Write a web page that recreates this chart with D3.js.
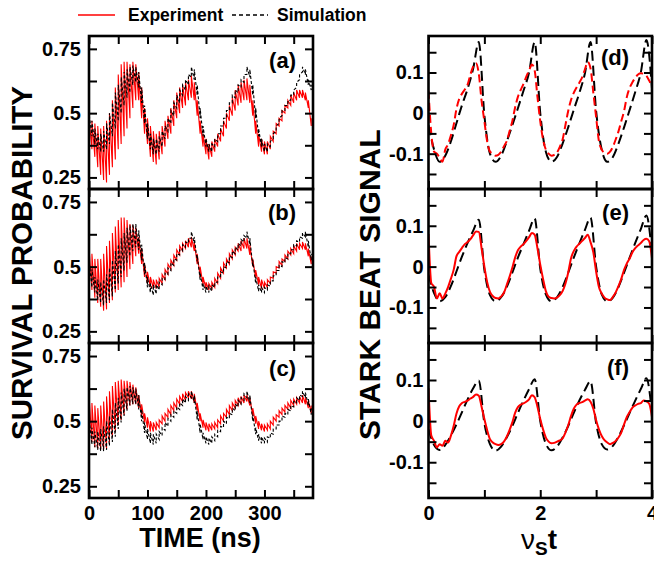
<!DOCTYPE html>
<html><head><meta charset="utf-8">
<script src="https://cdn.jsdelivr.net/npm/d3@7"></script>
<style>
body{margin:0;background:#fff}
svg{display:block}
text{font-family:"Liberation Sans",Arial,Helvetica,sans-serif;font-weight:bold;fill:#000}
</style>
</head><body>
<svg id="chart" width="654" height="563"></svg>
<script>
// ---------- DATA ----------
// time samples (ns) for left panels
const tNs = d3.range(0, 381, 5);
// Panel (a): envelope of fast oscillation (upper / lower)
const aExpHi = [.48,.47,.46,.45,.44,.45,.47,.50,.55,.60, .65,.69,.70,.70,.69,.70,.69,.66,.60,.52, .48,.45,.43,.42,.43,.45,.47,.49,.52,.55, .58,.60,.61,.62,.63,.645,.62,.55,.47,.42, .40,.38,.39,.40,.42,.44,.47,.50,.53,.56, .59,.61,.62,.63,.635,.61,.55,.47,.42,.40, .39,.39,.41,.43,.46,.48,.51,.53,.55,.57, .58,.59,.59,.59,.58,.55,.48];
const aExpLo = [.39,.36,.33,.29,.26,.24,.23,.26,.29,.32, .36,.38,.41,.44,.48,.52,.55,.55,.48,.42, .38,.33,.31,.30,.32,.34,.37,.40,.42,.45, .48,.50,.52,.53,.55,.56,.55,.49,.42,.37, .34,.32,.33,.35,.37,.39,.41,.44,.47,.49, .51,.53,.54,.55,.55,.54,.49,.42,.37,.35, .34,.34,.36,.39,.42,.45,.47,.50,.52,.53, .54,.55,.56,.56,.55,.52,.45];
const aSimHi = [.50,.47,.44,.42,.42,.43,.46,.50,.54,.58, .61,.64,.66,.67,.68,.685,.68,.66,.60,.53, .46,.42,.40,.40,.41,.43,.45,.48,.51,.54, .57,.59,.61,.63,.65,.68,.67,.61,.52,.45, .40,.38,.38,.40,.42,.45,.48,.51,.54,.57, .59,.61,.63,.65,.68,.67,.61,.52,.44,.40, .38,.38,.39,.42,.45,.48,.51,.53,.55,.57, .59,.62,.65,.68,.67,.63,.61];
const aSimLo = [.45,.41,.38,.36,.35,.35,.36,.38,.41,.44, .47,.50,.53,.56,.58,.61,.62,.60,.54,.46, .40,.36,.34,.34,.35,.37,.40,.43,.46,.49, .52,.54,.57,.59,.61,.64,.63,.57,.48,.41, .37,.35,.35,.37,.39,.42,.45,.48,.51,.54, .56,.58,.60,.62,.65,.64,.57,.48,.41,.37, .35,.35,.37,.40,.43,.46,.49,.51,.53,.55, .57,.60,.63,.66,.65,.61,.59];
// Panel (b)
const bExpHi = [.575,.55,.53,.53,.53,.55,.58,.60,.63,.655, .68,.69,.69,.68,.665,.66,.65,.615,.57,.51, .48,.46,.45,.45,.455,.47,.49,.51,.525,.545, .565,.58,.59,.60,.61,.615,.595,.55,.50,.46, .44,.435,.44,.455,.475,.495,.515,.53,.55,.565, .575,.59,.60,.61,.61,.585,.53,.487,.46,.45, .44,.45,.46,.48,.50,.52,.53,.545,.56,.57, .58,.59,.59,.595,.59,.57,.54];
const bExpLo = [.435,.41,.38,.36,.345,.33,.335,.36,.37,.40, .41,.42,.44,.46,.49,.51,.54,.55,.51,.46, .435,.42,.415,.415,.42,.435,.45,.47,.49,.505, .525,.545,.56,.57,.575,.575,.56,.51,.46,.43, .415,.41,.415,.42,.435,.455,.475,.495,.51,.53, .545,.56,.56,.57,.57,.545,.50,.455,.43,.415, .415,.42,.435,.455,.475,.495,.505,.52,.53,.545, .55,.56,.565,.57,.565,.54,.51];
const bSimHi = [.525,.49,.46,.45,.44,.45,.47,.495,.525,.56, .585,.61,.63,.65,.66,.665,.665,.64,.585,.515, .46,.435,.43,.43,.44,.455,.475,.495,.515,.53, .55,.565,.585,.595,.61,.635,.615,.545,.475,.435, .425,.425,.43,.44,.46,.48,.50,.52,.54,.56, .575,.59,.605,.62,.635,.61,.525,.46,.43,.42, .42,.43,.445,.465,.485,.505,.52,.535,.55,.565, .585,.60,.615,.63,.635,.60,.55];
const bSimLo = [.46,.42,.40,.37,.36,.35,.36,.37,.385,.41, .435,.46,.485,.515,.54,.56,.575,.565,.525,.47, .42,.40,.39,.395,.41,.43,.45,.47,.485,.505, .525,.545,.56,.575,.59,.61,.59,.52,.45,.41, .40,.40,.405,.42,.44,.46,.475,.495,.515,.535, .55,.565,.58,.595,.61,.585,.50,.435,.405,.40, .40,.41,.425,.445,.465,.485,.50,.515,.53,.55, .565,.58,.595,.61,.615,.575,.525];
// Panel (c)
const cExpHi = [.60,.57,.56,.55,.56,.575,.595,.615,.635,.65, .655,.66,.655,.655,.65,.64,.63,.60,.565,.53, .515,.50,.495,.495,.505,.52,.53,.545,.56,.57, .585,.595,.605,.61,.615,.615,.605,.57,.53,.505, .495,.49,.49,.495,.505,.52,.53,.545,.56,.57, .58,.59,.595,.60,.60,.59,.55,.52,.50,.49, .485,.49,.50,.515,.525,.54,.55,.56,.57,.58, .585,.59,.595,.60,.59,.58,.56];
const cExpLo = [.435,.42,.40,.395,.39,.39,.395,.42,.44,.46, .485,.505,.525,.545,.56,.565,.565,.55,.52,.495, .475,.46,.46,.465,.475,.49,.50,.515,.525,.54, .55,.565,.575,.58,.59,.585,.57,.54,.50,.475, .465,.46,.465,.47,.475,.49,.50,.515,.525,.54, .55,.56,.565,.57,.575,.56,.52,.49,.47,.465, .46,.465,.47,.485,.50,.515,.525,.535,.545,.55, .56,.565,.57,.57,.565,.55,.53];
const cSimHi = [.515,.475,.46,.46,.47,.48,.50,.52,.545,.57, .59,.61,.625,.63,.635,.63,.625,.60,.545,.495, .47,.455,.45,.45,.46,.475,.495,.51,.525,.54, .555,.57,.585,.595,.605,.615,.60,.54,.49,.455, .44,.435,.44,.45,.465,.48,.50,.515,.53,.55, .565,.58,.59,.605,.615,.60,.525,.475,.45,.44, .435,.44,.455,.47,.485,.50,.52,.53,.545,.56, .575,.59,.60,.615,.61,.585,.55];
const cSimLo = [.45,.41,.40,.39,.385,.385,.39,.405,.42,.44, .47,.495,.52,.54,.56,.565,.565,.545,.50,.455, .43,.415,.41,.415,.43,.445,.465,.48,.50,.515, .53,.545,.56,.57,.58,.59,.57,.505,.455,.43, .415,.41,.415,.425,.44,.46,.475,.49,.51,.525, .54,.555,.565,.58,.59,.57,.50,.45,.425,.415, .415,.42,.435,.45,.47,.485,.50,.515,.525,.54, .555,.57,.58,.595,.59,.56,.525];

// right panels: nu_S t samples
const nuSim = d3.range(0, 41).map(i => i / 10);
const nuExp = d3.range(0, 81).map(i => i / 20);
const dSim = [-.03,-.09,-.12,-.105,-.07,-.025,.02,.06,.11,.175, -.005,-.10,-.12,-.105,-.07,-.03,.012,.055,.10,.175, 0,-.095,-.12,-.108,-.075,-.035,.008,.05,.098,.175, .005,-.09,-.12,-.108,-.075,-.035,.008,.052,.10,.18, .06];
const dExp = [.055,-.05,-.095,-.10,-.11,-.12,-.09,-.077,-.055,-.03, .01,.035,.048,.058,.07,.095,.115,.123,.097,.03, -.02,-.07,-.095,-.10,-.105,-.103,-.095,-.082,-.069,-.045, -.02,.014,.04,.057,.072,.09,.105,.12,.105,.04, -.02,-.065,-.09,-.10,-.105,-.103,-.097,-.083,-.065,-.03, .005,.032,.05,.063,.075,.088,.108,.126,.11,.05, -.01,-.069,-.09,-.098,-.10,-.095,-.083,-.065,-.045,-.02, .005,.04,.062,.076,.087,.095,.098,.097,.092,.08, .065];
const eSim = [-.02,-.065,-.085,-.075,-.048,-.012,.025,.058,.088,.115, -.008,-.07,-.085,-.075,-.05,-.015,.022,.055,.088,.118, -.005,-.068,-.085,-.075,-.05,-.015,.022,.057,.09,.12, 0,-.068,-.085,-.076,-.05,-.015,.022,.058,.092,.125, .03];
const eExp = [.08,-.04,-.05,-.078,-.065,-.078,-.066,-.05,-.03,-.008, .025,.036,.046,.055,.06,.067,.077,.086,.085,.045, 0,-.038,-.062,-.072,-.077,-.078,-.073,-.064,-.045,-.025, -.003,.022,.04,.049,.055,.063,.072,.082,.078,.045, .005,-.03,-.06,-.074,-.077,-.078,-.076,-.07,-.06,-.042, -.015,.02,.038,.049,.056,.063,.07,.078,.06,.035, -.012,-.05,-.066,-.076,-.08,-.082,-.074,-.063,-.048,-.03, -.008,.008,.02,.035,.045,.052,.058,.065,.068,.062, .02];
const fSim = [-.02,-.058,-.07,-.058,-.035,-.008,.022,.053,.08,.099, -.005,-.056,-.072,-.062,-.04,-.012,.02,.05,.078,.102, 0,-.055,-.071,-.062,-.04,-.012,.02,.05,.076,.097, -.005,-.056,-.069,-.06,-.038,-.01,.02,.05,.078,.104, .02];
const fExp = [.08,-.035,-.048,-.064,-.056,-.06,-.048,-.052,-.036,-.012, .018,.036,.044,.047,.05,.055,.059,.065,.062,.035, .005,-.022,-.044,-.052,-.056,-.058,-.056,-.05,-.038,-.022, -.003,.02,.034,.04,.043,.047,.053,.063,.058,.035, .005,-.02,-.04,-.05,-.054,-.053,-.05,-.047,-.042,-.028, -.01,.012,.03,.04,.044,.046,.05,.053,.047,.03, .002,-.02,-.036,-.046,-.052,-.056,-.053,-.048,-.04,-.028, -.008,.01,.022,.033,.038,.042,.044,.05,.048,.042, .01];

// ticks / labels
const leftYTicks = [0.25, 0.375, 0.5, 0.625, 0.75];
const leftYLabels = [0.25, 0.5, 0.75];
const leftXTicks = [0, 50, 100, 150, 200, 250, 300, 350];
const leftXLabels = [0, 100, 200, 300];
const rightYTicks = [-0.15, -0.1, -0.05, 0, 0.05, 0.1, 0.15];
const rightYLabels = [-0.1, 0, 0.1];
const rightXTicks = [0, 1, 2, 3, 4];
const rightXLabels = [0, 2, 4];
const panelLabels = ["(a)", "(b)", "(c)", "(d)", "(e)", "(f)"];
const legendNames = ["Experiment", "Simulation"];

// ---------- LAYOUT ----------
const svg = d3.select("#chart");
const rows = [[36, 189], [189, 343], [343, 498]];
const Lx = [89, 313], Rx = [428.5, 652];
const xL = d3.scaleLinear().domain([0, 383]).range(Lx);
const xR = d3.scaleLinear().domain([0, 4]).range(Rx);
const RED = "#ff0000";

function frameAndAxes(g, x, y, xt, xl, yt, yl, showX, fmtY, yPad, r) {
  const [top, bot] = r;
  const tick = 8;
  const labY = v => yl.includes(v) ? fmtY(v) : "";
  const labX = v => (showX && xl.includes(v)) ? String(v) : "";
  const ax = [
    d3.axisLeft(y).tickValues(yt).tickSize(-tick).tickPadding(yPad).tickFormat(labY),
    d3.axisRight(y).tickValues(yt).tickSize(-tick).tickFormat(""),
  ];
  g.append("g").attr("transform", `translate(${x.range()[0]},0)`).call(ax[0]);
  g.append("g").attr("transform", `translate(${x.range()[1]},0)`).call(ax[1]);
  g.append("g").attr("transform", `translate(0,${bot})`)
    .call(d3.axisBottom(x).tickValues(xt).tickSize(-tick).tickPadding(8).tickFormat(labX));
  g.append("g").attr("transform", `translate(0,${top})`)
    .call(d3.axisTop(x).tickValues(xt).tickSize(-tick).tickFormat(""));
  g.selectAll(".domain").remove();
  g.selectAll(".tick line").attr("stroke", "#000").attr("stroke-width", 2);
  g.selectAll(".tick text").attr("font-size", 20).attr("font-weight", "bold")
    .attr("font-family", '"Liberation Sans",Arial,sans-serif').attr("fill", "#000");
  g.append("rect").attr("x", x.range()[0]).attr("y", top)
    .attr("width", x.range()[1] - x.range()[0]).attr("height", bot - top)
    .attr("fill", "none").attr("stroke", "#000").attr("stroke-width", 2.6);
}

function clip(id, x, r) {
  svg.append("clipPath").attr("id", id).append("rect")
    .attr("x", x.range()[0]).attr("y", r[0])
    .attr("width", x.range()[1] - x.range()[0]).attr("height", r[1] - r[0]);
}

// left panels
const leftSets = [[aExpHi, aExpLo, aSimHi, aSimLo], [bExpHi, bExpLo, bSimHi, bSimLo], [cExpHi, cExpLo, cSimHi, cSimLo]];
leftSets.forEach((s, k) => {
  const r = rows[k];
  const y = d3.scaleLinear().domain([0.205, 0.80]).range([r[1], r[0]]);
  const id = "clipL" + k;
  clip(id, xL, r);
  const g = svg.append("g");
  const saw = (hi, lo) => {
    const pts = [];
    tNs.forEach((t, i) => { pts.push([t, lo[i]]); pts.push([t, hi[i]]); });
    return pts;
  };
  const line = d3.line().x(d => xL(d[0])).y(d => y(d[1]));
  const pg = g.append("g").attr("clip-path", `url(#${id})`);
  pg.append("path").attr("d", line(saw(s[0], s[1]))).attr("fill", "none")
    .attr("stroke", RED).attr("stroke-width", 1.1);
  pg.append("path").attr("d", line(saw(s[2], s[3]))).attr("fill", "none")
    .attr("stroke", "#000").attr("stroke-width", 1.1).attr("stroke-dasharray", "3,2");
  frameAndAxes(g, xL, y, leftXTicks, leftXLabels, leftYTicks, leftYLabels, k === 2,
    v => String(v), 8, r);
  g.append("text").attr("x", 296).attr("y", [68, 220, 376][k]).attr("text-anchor", "end")
    .attr("font-size", 22).text(panelLabels[k]);
});

// right panels
const rightSets = [[dSim, dExp, true], [eSim, eExp, false], [fSim, fExp, false]];
rightSets.forEach((s, k) => {
  const r = rows[k];
  const y = d3.scaleLinear().domain([-0.187, 0.19]).range([r[1], r[0]]);
  const id = "clipR" + k;
  clip(id, xR, r);
  const g = svg.append("g");
  const pg = g.append("g").attr("clip-path", `url(#${id})`);
  const lineS = d3.line().x((d, i) => xR(nuSim[i])).y(d => y(d)).curve(d3.curveMonotoneX);
  const lineE = d3.line().x((d, i) => xR(nuExp[i])).y(d => y(d)).curve(d3.curveMonotoneX);
  pg.append("path").attr("d", lineS(s[0])).attr("fill", "none").attr("stroke", "#000")
    .attr("stroke-width", 2).attr("stroke-dasharray", "10,5");
  const pe = pg.append("path").attr("d", lineE(s[1])).attr("fill", "none").attr("stroke", RED)
    .attr("stroke-width", 2);
  if (s[2]) pe.attr("stroke-dasharray", "8,4");
  frameAndAxes(g, xR, y, rightXTicks, rightXLabels, rightYTicks, rightYLabels, k === 2,
    v => (v === 0 ? "0" : String(v)), 5, r);
  g.append("text").attr("x", 629).attr("y", [65, 220, 375][k]).attr("text-anchor", "end")
    .attr("font-size", 22).text(panelLabels[k + 3]);
});

// axis titles
svg.append("text").attr("transform", "translate(32,440) rotate(-90)").attr("text-anchor", "start")
  .attr("font-size", 29.5).text("SURVIVAL PROBABILITY");
svg.append("text").attr("transform", "translate(380,440) rotate(-90)").attr("text-anchor", "start")
  .attr("font-size", 30).text("STARK BEAT SIGNAL");
svg.append("text").attr("x", 200).attr("y", 547).attr("text-anchor", "middle")
  .attr("font-size", 27).text("TIME (ns)");
const nt = svg.append("text").attr("x", 539).attr("y", 549).attr("text-anchor", "middle").attr("font-size", 28);
nt.append("tspan").attr("font-weight", "normal").text("\u03BD");
nt.append("tspan").attr("font-size", 19).attr("dy", 6).text("S");
nt.append("tspan").attr("dy", -6).text("t");

// legend
const lg = svg.append("g");
lg.append("line").attr("x1", 78).attr("x2", 115).attr("y1", 15).attr("y2", 15)
  .attr("stroke", RED).attr("stroke-width", 1.5);
lg.append("text").attr("x", 128).attr("y", 21).attr("font-size", 17.5).text(legendNames[0]);
lg.append("line").attr("x1", 232).attr("x2", 268).attr("y1", 15).attr("y2", 15)
  .attr("stroke", "#000").attr("stroke-width", 1.5).attr("stroke-dasharray", "4,3");
lg.append("text").attr("x", 277).attr("y", 21).attr("font-size", 17.5).text(legendNames[1]);
</script>
</body></html>
